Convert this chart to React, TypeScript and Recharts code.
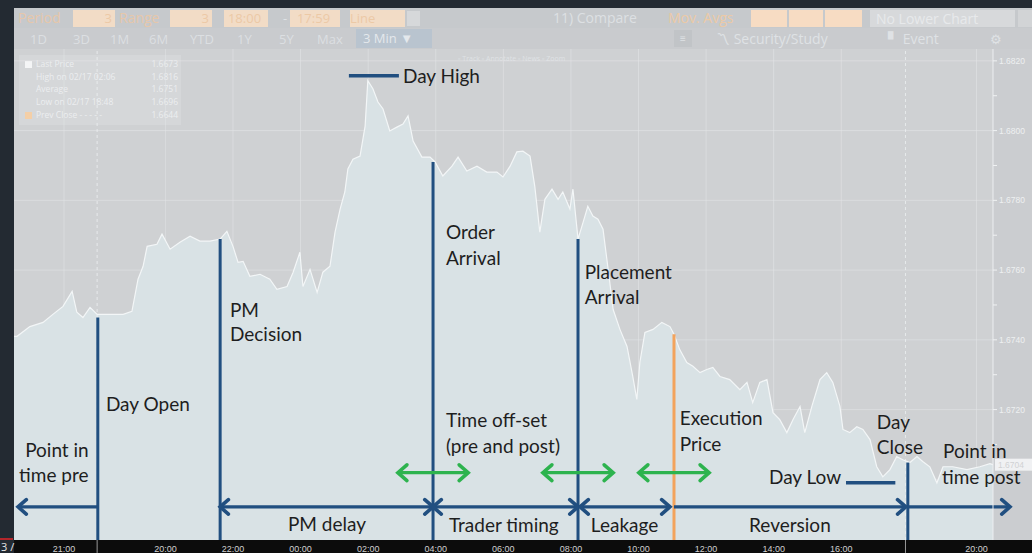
import React from 'react';
import {
  ComposedChart,
  Area,
  XAxis,
  YAxis,
  CartesianGrid,
  ReferenceLine,
  ReferenceDot,
} from 'recharts';

// price path, hours from 22:00 on the x axis
const times = [
  -6.48, -6.39, -6.01, -5.62, -5.33, -5.03, -4.76, -4.62, -4.44, -4.23, -4.02, -3.64, -3.25, -2.99,
  -2.81, -2.66, -2.54, -2.25, -2.1, -1.86, -1.57, -1.27, -0.98, -0.68, -0.38, -0.18, 0.0, 0.15, 0.3,
  0.5, 0.8, 1.09, 1.3, 1.6, 1.78, 1.98, 2.07, 2.28, 2.49, 2.66, 2.87, 3.02, 3.17, 3.31, 3.4, 3.55,
  3.76, 3.91, 3.99, 4.14, 4.29, 4.44, 4.64, 4.85, 5.03, 5.18, 5.33, 5.59, 5.83, 5.98, 6.21, 6.48,
  6.66, 6.92, 7.22, 7.51, 7.81, 7.99, 8.2, 8.4, 8.58, 8.79, 8.93, 9.08, 9.23, 9.44, 9.62, 9.76, 9.97,
  10.06, 10.21, 10.36, 10.5, 10.65, 10.8, 10.95, 11.09, 11.25, 11.45, 11.66, 11.83, 11.95, 12.04,
  12.19, 12.43, 12.69, 12.93, 13.05, 13.22, 13.43, 13.61, 13.82, 14.02, 14.2, 14.41, 14.7, 15.0,
  15.21, 15.38, 15.59, 15.8, 15.98, 16.18, 16.39, 16.57, 16.78, 16.92, 17.13, 17.37, 17.57, 17.75,
  17.96, 18.05, 18.25, 18.46, 18.64, 18.85, 19.05, 19.23, 19.44, 19.64, 19.82, 20.03, 20.24, 20.41,
  20.62, 20.83, 21.01, 21.3, 21.72, 22.1, 22.4, 22.49,
];
const prices = [
  1.6741, 1.6741, 1.67438, 1.6745, 1.67473, 1.67496, 1.67539, 1.67479, 1.67464, 1.67493, 1.67473,
  1.67473, 1.67473, 1.67482, 1.67574, 1.67611, 1.67668, 1.67674, 1.67703, 1.6766, 1.6768, 1.67697,
  1.67683, 1.67683, 1.67689, 1.67711, 1.67668, 1.67622, 1.67625, 1.67582, 1.67588, 1.67574,
  1.67545, 1.67553, 1.67594, 1.67651, 1.67553, 1.67602, 1.67536, 1.67594, 1.67611, 1.67709,
  1.67775, 1.67824, 1.6789, 1.67918, 1.67927, 1.68013, 1.68143, 1.6812, 1.68082, 1.68062, 1.67999,
  1.6801, 1.68019, 1.68042, 1.6797, 1.67924, 1.67924, 1.6791, 1.6787, 1.67898, 1.67924, 1.67884,
  1.67898, 1.67881, 1.67881, 1.67867, 1.67898, 1.67939, 1.67941, 1.67927, 1.67841, 1.67709,
  1.67803, 1.67832, 1.67803, 1.67824, 1.67775, 1.67832, 1.67689, 1.67737, 1.67783, 1.67755,
  1.67746, 1.67717, 1.67611, 1.67487, 1.6743, 1.67381, 1.67295, 1.67229, 1.67335, 1.67421,
  1.6743, 1.6745, 1.67438, 1.67416, 1.67372, 1.67335, 1.67324, 1.67306, 1.67315, 1.67321,
  1.67295, 1.67286, 1.67257, 1.67278, 1.6722, 1.67278, 1.67286, 1.67191, 1.67171, 1.67134,
  1.67171, 1.67209, 1.67134, 1.67209, 1.67286, 1.67306, 1.67278, 1.67209, 1.67143, 1.67134,
  1.67151, 1.67143, 1.67114, 1.67036, 1.67007, 1.67028, 1.67065, 1.67056, 1.67048, 1.67065,
  1.67051, 1.67036, 1.6699, 1.67036, 1.67036, 1.67028, 1.67036, 1.67045, 1.67042,
];

const xTicks = [-5, -2, 0, 2, 4, 6, 8, 10, 12, 14, 16, 18, 22];
const xTickLabels = ['21:00', '20:00', '22:00', '00:00', '02:00', '04:00', '06:00', '08:00', '10:00', '12:00', '14:00', '16:00', '20:00'];
const yTicks = [1.67, 1.671, 1.672, 1.673, 1.674, 1.675, 1.676, 1.677, 1.678, 1.679, 1.68, 1.681, 1.682];
const dayBreaks = [-4.02, 19.9];

// vertical event markers
const markerTimes = [-4.0, -0.38, 5.92, 10.21, 13.05, 19.97];
const markerPrices = [1.67464, 1.67689, 1.6791, 1.67689, 1.67416, 1.67048];
const markerColors = ['navy', 'navy', 'navy', 'navy', 'orange', 'navy'];

// day high / day low stubs
const extremes = [
  { from: 3.43, to: 4.91, price: 1.68157 },
  { from: 18.14, to: 19.6, price: 1.6699 },
];

// bottom interval arrows (the last one runs on past the plot edge)
const intervalLevel = 1.66921;
const intervals = [
  { from: -4.0, to: -6.36, heads: 'end', overshoot: 0 },
  { from: -0.38, to: 5.92, heads: 'both', overshoot: 0 },
  { from: 5.92, to: 10.21, heads: 'both', overshoot: 0 },
  { from: 10.27, to: 12.93, heads: 'both', overshoot: 0 },
  { from: 13.05, to: 19.91, heads: 'end', overshoot: 0 },
  { from: 19.97, to: 22.49, heads: 'end', overshoot: 17 },
];

// green offset arrows
const offsetLevel = 1.67019;
const offsets = [
  { from: 4.88, to: 6.96 },
  { from: 9.17, to: 11.25 },
  { from: 12.01, to: 14.09 },
];

const labels = [
  { text: 'Day High', t: 5.03, p: 1.68157, anchor: 'start' },
  { text: 'Order', t: 6.3, p: 1.67709, anchor: 'start' },
  { text: 'Arrival', t: 6.3, p: 1.67634, anchor: 'start' },
  { text: 'PM', t: -0.09, p: 1.67484, anchor: 'start' },
  { text: 'Decision', t: -0.09, p: 1.67416, anchor: 'start' },
  { text: 'Placement', t: 10.41, p: 1.67594, anchor: 'start' },
  { text: 'Arrival', t: 10.41, p: 1.67522, anchor: 'start' },
  { text: 'Day Open', t: -3.76, p: 1.67214, anchor: 'start' },
  { text: 'Time off-set', t: 6.3, p: 1.67168, anchor: 'start' },
  { text: '(pre and post)', t: 6.3, p: 1.67094, anchor: 'start' },
  { text: 'Execution', t: 13.22, p: 1.67174, anchor: 'start' },
  { text: 'Price', t: 13.22, p: 1.67099, anchor: 'start' },
  { text: 'Day', t: 19.05, p: 1.67163, anchor: 'start' },
  { text: 'Close', t: 19.05, p: 1.67091, anchor: 'start' },
  { text: 'Point in', t: -6.15, p: 1.67082, anchor: 'start' },
  { text: 'time pre', t: -6.33, p: 1.6701, anchor: 'start' },
  { text: 'Point in', t: 21.01, p: 1.67079, anchor: 'start' },
  { text: 'time post', t: 20.98, p: 1.67007, anchor: 'start' },
  { text: 'Day Low', t: 15.86, p: 1.67007, anchor: 'start' },
  { text: 'PM delay', t: 2.78, p: 1.66872, anchor: 'middle' },
  { text: 'Trader timing', t: 6.39, p: 1.66867, anchor: 'start' },
  { text: 'Leakage', t: 10.59, p: 1.66867, anchor: 'start' },
  { text: 'Reversion', t: 16.48, p: 1.66867, anchor: 'middle' },
];

const legendRows = [
  { name: 'Last Price', value: '1.6673' },
  { name: 'High on 02/17 02:06', value: '1.6816' },
  { name: 'Average', value: '1.6751' },
  { name: 'Low on 02/17 18:48', value: '1.6696' },
  { name: 'Prev Close - - - - -', value: '1.6644' },
];

const X_DOMAIN = [-6.48, 22.49];
const Y_DOMAIN = [1.66826, 1.68234];

const FRAME = '#232a32';
const NAVY = '#214f80';
const GREEN = '#2db34e';
const ORANGE = '#f3a35c';
const INK = '#1e1e1e';
const LABEL_FONT = 'Lato, "Open Sans", sans-serif';

const chartData = times.map((t, i) => ({ t, price: prices[i] }));
const lastPrice = prices[prices.length - 1];

function Arrow(props: any) {
  const { x1, y1, x2: rawX2, y2, color, heads, width = 3.2, head = 11, overshoot = 0 } = props;
  const x2 = rawX2 + overshoot;
  const ang = Math.atan2(y2 - y1, x2 - x1);
  const chevron = (x: number, y: number, dir: number) => {
    const a1 = dir + Math.PI - 0.72;
    const a2 = dir + Math.PI + 0.72;
    return (
      <path
        d={`M${x + head * Math.cos(a1)},${y + head * Math.sin(a1)} L${x},${y} L${x + head * Math.cos(a2)},${y + head * Math.sin(a2)}`}
        fill="none"
        stroke={color}
        strokeWidth={width + 0.4}
        strokeLinecap="round"
        strokeLinejoin="miter"
      />
    );
  };
  return (
    <g>
      <line x1={x1} y1={y1} x2={x2} y2={y2} stroke={color} strokeWidth={width} />
      {(heads === 'end' || heads === 'both') && chevron(x2, y2, ang)}
      {(heads === 'start' || heads === 'both') && chevron(x1, y1, ang + Math.PI)}
    </g>
  );
}

function Toolbar() {
  const box = (left: number, w: number, text: string, align: any = 'right') => (
    <div
      style={{
        position: 'absolute', left, top: 10, width: w, height: 17, background: '#f2dcc6',
        color: '#ecc9a6', fontSize: 13, lineHeight: '17px', textAlign: align, paddingRight: 3, boxSizing: 'border-box',
      }}
    >
      {text}
    </div>
  );
  const txt = (left: number, top: number, text: string, color = '#dfe2e5', size = 13) => (
    <div style={{ position: 'absolute', left, top, color, fontSize: size, lineHeight: '18px', whiteSpace: 'nowrap' }}>{text}</div>
  );
  return (
    <>
      <div style={{ position: 'absolute', left: 14, top: 8, width: 1018, height: 20, background: '#c6c9cc' }} />
      <div style={{ position: 'absolute', left: 14, top: 28, width: 1018, height: 21, background: '#c9cbce' }} />
      {txt(18, 9, 'Period', '#e6c7aa', 14)}
      {box(73, 42, '3')}
      {txt(119, 9, 'Range', '#e6c7aa', 14)}
      {box(170, 42, '3')}
      {box(224, 44, '18:00', 'center')}
      {txt(283, 9, '-', '#dfe2e5')}
      {box(290, 50, '17:59', 'center')}
      {box(350, 55, 'Line', 'left')}
      <div style={{ position: 'absolute', left: 407, top: 11, width: 13, height: 15, background: '#d6d8da' }} />
      {txt(553, 9, '11) Compare', '#dde0e3', 14)}
      {txt(668, 9, 'Mov. Avgs', '#ecc9a6', 14)}
      <div style={{ position: 'absolute', left: 751, top: 10, width: 36, height: 17, background: '#f7dcc3' }} />
      <div style={{ position: 'absolute', left: 789, top: 10, width: 34, height: 17, background: '#f7dcc3' }} />
      <div style={{ position: 'absolute', left: 825, top: 10, width: 37, height: 17, background: '#f7dcc3' }} />
      <div style={{ position: 'absolute', left: 870, top: 10, width: 145, height: 17, background: '#d7d9db', color: '#e7e9eb', fontSize: 14, lineHeight: '17px', paddingLeft: 6, boxSizing: 'border-box' }}>No Lower Chart</div>
      <div style={{ position: 'absolute', left: 1018, top: 10, width: 14, height: 17, background: '#d2d4d6' }} />
      {['1D', '3D', '1M', '6M', 'YTD', '1Y', '5Y', 'Max'].map((s, i) => (
        <div key={s} style={{ position: 'absolute', left: [30, 73, 110, 149, 190, 237, 279, 317][i], top: 30, color: '#dcdfe2', fontSize: 13, lineHeight: '18px' }}>{s}</div>
      ))}
      <div style={{ position: 'absolute', left: 356, top: 29, width: 76, height: 19, background: '#b9c4cf', color: '#e4e8ec', fontSize: 13, lineHeight: '19px', paddingLeft: 7, boxSizing: 'border-box' }}>3 Min ▼</div>
      <div style={{ position: 'absolute', left: 674, top: 30, width: 18, height: 17, background: '#c1c4c7', color: '#dfe2e5', fontSize: 10, textAlign: 'center', lineHeight: '17px' }}>≡</div>
      {txt(716, 30, '〽 Security/Study', '#dfe2e5', 14)}
      {txt(888, 30, '▘ Event', '#dfe2e5', 14)}
      {txt(990, 30, '⚙', '#dfe2e5', 13)}
      {txt(458, 50, '▫ Track   ▫ Annotate   ▫ News   ▫ Zoom', '#dfe2e5', 7)}
    </>
  );
}

function Legend() {
  return (
    <div style={{ position: 'absolute', left: 19, top: 55, width: 162, height: 70, background: '#d5d7d9' }}>
      {legendRows.map((r, i) => (
        <div key={r.name} style={{ position: 'absolute', left: 6, top: 3 + i * 12.7, width: 153, fontSize: 8.5, lineHeight: '12px', color: '#eceef0', whiteSpace: 'nowrap' }}>
          <span style={{ display: 'inline-block', width: 7, height: 7, marginRight: 4, background: i === 0 ? '#f4f5f6' : i === 4 ? '#f4cfa7' : 'transparent', verticalAlign: 'middle' }} />
          {r.name}
          <span style={{ position: 'absolute', right: 0 }}>{r.value}</span>
        </div>
      ))}
    </div>
  );
}

export default function App() {
  const textShape = (l: any) => (p: any) => (
    <text
      x={p.cx}
      y={p.cy}
      dy="0.35em"
      textAnchor={l.anchor}
      fill={INK}
      fontFamily={LABEL_FONT}
      fontSize={19}
    >
      {l.text}
    </text>
  );

  return (
    <div style={{ position: 'absolute', left: 0, top: 0, width: 1032, height: 553, background: FRAME, overflow: 'hidden', fontFamily: '"Open Sans", sans-serif' }}>
      <div style={{ position: 'absolute', left: 14, top: 49, width: 1018, height: 492, background: '#cfd1d3' }} />
      <div style={{ position: 'absolute', left: 993, top: 49, width: 39, height: 492, background: '#cbcdd0' }} />
      <div style={{ position: 'absolute', left: 14, top: 540, width: 1018, height: 13, background: '#0c0c0c' }} />
      <div style={{ position: 'absolute', left: 0, top: 538, width: 13, height: 2, background: '#b3262b' }} />
      <div style={{ position: 'absolute', left: 1, top: 541, color: '#e6e6e6', fontSize: 11, lineHeight: '12px' }}>3 /</div>
      <Toolbar />
      <Legend />
      <div style={{ position: 'absolute', left: 0, top: 0 }}>
        <ComposedChart
          width={1032}
          height={553}
          data={chartData}
          margin={{ top: 49, right: 0, left: 14, bottom: 0 }}
        >
          <CartesianGrid
            stroke="#e4e6e8"
            strokeOpacity={0.55}
            horizontalValues={yTicks.filter((_, i) => i % 2 === 0)}
            verticalValues={xTicks}
          />
          <XAxis
            dataKey="t"
            type="number"
            domain={X_DOMAIN}
            ticks={xTicks}
            tickFormatter={(v: number) => xTickLabels[xTicks.indexOf(v)] ?? ''}
            interval={0}
            height={13}
            axisLine={false}
            tickLine={false}
            tick={{ fontSize: 9, fill: '#cfcfcf', fontFamily: '"Liberation Sans", sans-serif' }}
            tickMargin={0}
            allowDataOverflow
          />
          <YAxis
            orientation="right"
            type="number"
            domain={Y_DOMAIN}
            ticks={yTicks}
            interval={0}
            width={39}
            allowDataOverflow
            axisLine={{ stroke: '#eceef0', strokeWidth: 1 }}
            tickLine={{ stroke: '#f0f2f3' }}
            tickSize={4}
            tickMargin={2}
            tickFormatter={(v: number) => {
              const k = Math.round(v * 1000);
              return k % 2 === 0 && k >= 1672 ? v.toFixed(4) : '';
            }}
            tick={{ fontSize: 8.5, fill: '#eef0f1', fontFamily: '"Liberation Sans", sans-serif' }}
          />
          <Area
            type="linear"
            dataKey="price"
            stroke="#f3f6f7"
            strokeWidth={1.2}
            fill="#d9e2e5"
            fillOpacity={1}
            dot={false}
            activeDot={false}
            isAnimationActive={false}
          />
          {dayBreaks.map((t) => (
            <ReferenceLine key={`db${t}`} x={t} stroke="#eef0f1" strokeDasharray="3 3" strokeOpacity={0.8} />
          ))}
          {dayBreaks.map((t) => (
            <ReferenceLine
              key={`dbb${t}`}
              segment={[{ x: t, y: Y_DOMAIN[0] }, { x: t, y: 1.66789 }]}
              stroke="#9a9a9a"
              ifOverflow="visible"
            />
          ))}
          <ReferenceDot
            x={X_DOMAIN[1]}
            y={lastPrice}
            r={0}
            ifOverflow="visible"
            shape={(p: any) => (
              <g>
                <rect x={p.cx + 2} y={p.cy - 6} width={37} height={12} fill="#f4f5f6" fillOpacity={0.9} />
                <text x={p.cx + 5} y={p.cy} dy="0.35em" fontSize={8.5} fill="#d0d2d4" fontFamily='"Liberation Sans", sans-serif'>
                  {lastPrice.toFixed(4)}
                </text>
              </g>
            )}
          />
          {markerTimes.map((t, i) => (
            <ReferenceLine
              key={`m${i}`}
              segment={[{ x: t, y: markerPrices[i] }, { x: t, y: Y_DOMAIN[0] }]}
              stroke={markerColors[i] === 'orange' ? ORANGE : NAVY}
              strokeWidth={3}
            />
          ))}
          {extremes.map((e, i) => (
            <ReferenceLine
              key={`e${i}`}
              segment={[{ x: e.from, y: e.price }, { x: e.to, y: e.price }]}
              stroke={NAVY}
              strokeWidth={3.5}
            />
          ))}
          {intervals.map((iv, i) => (
            <ReferenceLine
              key={`iv${i}`}
              segment={[{ x: iv.from, y: intervalLevel }, { x: iv.to, y: intervalLevel }]}
              ifOverflow="visible"
              shape={(p: any) => <Arrow {...p} color={NAVY} heads={iv.heads} overshoot={iv.overshoot} />}
            />
          ))}
          {offsets.map((o, i) => (
            <ReferenceLine
              key={`o${i}`}
              segment={[{ x: o.from, y: offsetLevel }, { x: o.to, y: offsetLevel }]}
              shape={(p: any) => <Arrow {...p} color={GREEN} heads="both" head={12} />}
            />
          ))}
          {labels.map((l, i) => (
            <ReferenceDot key={`l${i}`} x={l.t} y={l.p} r={0} ifOverflow="visible" shape={textShape(l)} />
          ))}
        </ComposedChart>
      </div>
    </div>
  );
}
